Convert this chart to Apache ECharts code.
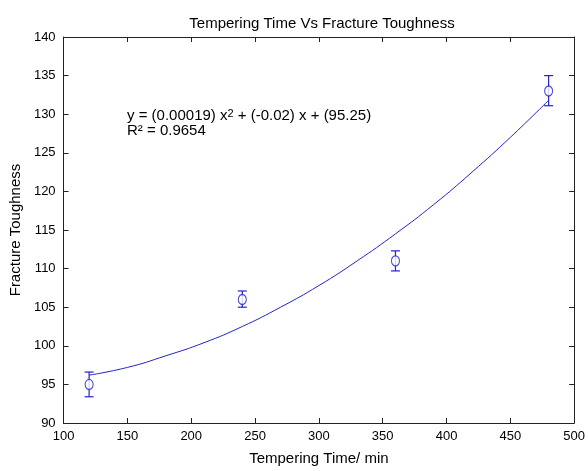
<!DOCTYPE html>
<html>
<head>
<meta charset="utf-8">
<script src="https://cdn.jsdelivr.net/npm/echarts@6/dist/echarts.min.js"></script>
<style>
html,body{margin:0;padding:0;background:#fff;}
#c{width:588px;height:471px;}
</style>
</head>
<body>
<div id="c"></div>
<script>
// Measured data points
var pointX = [120, 240, 360, 480];
var pointY = [95, 106, 111, 133];
var errLow = [93.4, 105.0, 109.7, 131.1];
var errHigh = [96.6, 107.1, 112.3, 135.0];

// Fit curve
var fitX = [120, 150, 180, 210, 240, 270, 300, 330, 360, 390, 420, 450, 480];
var fitY = [96.2, 97.2, 98.7, 100.4, 102.5, 105.0, 107.8, 111.0, 114.5, 118.3, 122.5, 127.0, 131.8];

// Axis ticks
var xTicks = {min: 100, max: 500, interval: 50};
var yTicks = {min: 90, max: 140, interval: 5};

var titleText = 'Tempering Time Vs Fracture Toughness';
var xName = 'Tempering Time/ min';
var yName = 'Fracture Toughness';

var blue = '#2323c8';
var font = 'Liberation Sans, Arial, sans-serif';

var chart = echarts.init(document.getElementById('c'), null, {renderer: 'canvas'});

function axisCommon(show) {
  return {
    axisLine: {show: true, onZero: false, lineStyle: {color: '#222', width: 1}},
    axisTick: {show: true, inside: true, length: 5, lineStyle: {color: '#222'}},
    splitLine: {show: false},
    axisLabel: {show: show, color: '#000', fontSize: 13, fontFamily: font}
  };
}

var fitData = fitX.map(function (x, i) { return [x, fitY[i]]; });
var ptData = pointX.map(function (x, i) { return [x, pointY[i]]; });
var errData = pointX.map(function (x, i) { return [x, errLow[i], errHigh[i]]; });

chart.setOption({
  backgroundColor: '#fff',
  animation: false,
  title: {
    text: titleText,
    left: 317, top: 11,
    textAlign: 'center',
    textStyle: {fontSize: 15, fontWeight: 'normal', color: '#000', fontFamily: font}
  },
  grid: {left: 63, right: 13, top: 37, bottom: 41, containLabel: false},
  xAxis: [
    Object.assign({
      type: 'value', min: xTicks.min, max: xTicks.max, interval: xTicks.interval,
      position: 'bottom',
      name: xName, nameLocation: 'middle', nameGap: 28,
      nameTextStyle: {fontSize: 15, color: '#000', fontFamily: font}
    }, axisCommon(true), {axisLabel: {show: true, color: '#000', fontSize: 13, fontFamily: font, margin: 7}}),
    Object.assign({
      type: 'value', min: xTicks.min, max: xTicks.max, interval: xTicks.interval,
      position: 'top'
    }, axisCommon(false))
  ],
  yAxis: [
    Object.assign({
      type: 'value', min: yTicks.min, max: yTicks.max, interval: yTicks.interval,
      position: 'left',
      name: yName, nameLocation: 'middle', nameGap: 39,
      nameTextStyle: {fontSize: 15, color: '#000', fontFamily: font}
    }, axisCommon(true), {axisLabel: {show: true, color: '#000', fontSize: 13, fontFamily: font, margin: 8}}),
    Object.assign({
      type: 'value', min: yTicks.min, max: yTicks.max, interval: yTicks.interval,
      position: 'right'
    }, axisCommon(false))
  ],
  graphic: [{
    type: 'text',
    left: 127, top: 108,
    style: {
      rich: {
        t: {fontSize: 15, fill: '#000', fontFamily: font, lineHeight: 15},
        sup: {fontSize: 11, fill: '#000', fontFamily: font, verticalAlign: 'top', lineHeight: 15, padding: [0, 0, 7, 0]}
      },
      text: '{t|y = (0.00019) x}{sup|2}{t| + (-0.02) x + (95.25)}\n{t|R² = 0.9654}'
    }
  }],
  series: [
    {
      type: 'line', data: fitData, smooth: true, showSymbol: false, symbol: 'none',
      lineStyle: {color: blue, width: 1}, z: 2
    },
    {
      type: 'custom',
      data: errData,
      renderItem: function (params, api) {
        var x = api.value(0);
        var lo = api.coord([x, api.value(1)]);
        var hi = api.coord([x, api.value(2)]);
        var hw = 4.5;
        var st = {stroke: blue, lineWidth: 1.2};
        return {
          type: 'group',
          children: [
            {type: 'line', shape: {x1: lo[0], y1: lo[1], x2: hi[0], y2: hi[1]}, style: st},
            {type: 'line', shape: {x1: lo[0] - hw, y1: lo[1], x2: lo[0] + hw, y2: lo[1]}, style: st},
            {type: 'line', shape: {x1: hi[0] - hw, y1: hi[1], x2: hi[0] + hw, y2: hi[1]}, style: st}
          ]
        };
      },
      encode: {x: 0, y: [1, 2]},
      z: 3
    },
    {
      type: 'scatter', data: ptData, symbol: 'circle', symbolSize: [8, 10],
      itemStyle: {color: '#fff', borderColor: blue, borderWidth: 1.2}, z: 4
    }
  ]
});
</script>
</body>
</html>
